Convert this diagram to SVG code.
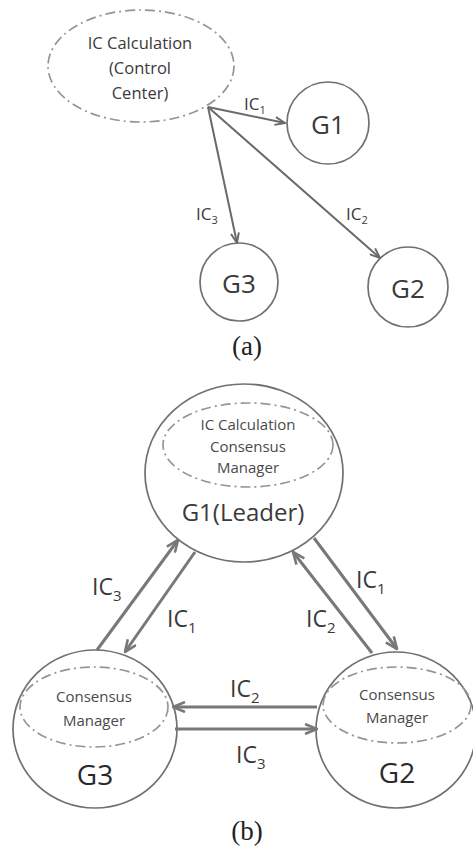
<svg xmlns="http://www.w3.org/2000/svg" width="473" height="849" viewBox="0 0 473 849">
<style>
.bg{fill:#ffffff}
.node{fill:none;stroke:#707070;stroke-width:1.7}
.dash{fill:none;stroke:#959595;stroke-width:1.7;stroke-dasharray:10 4 2 4}
.t{font-family:"Open Sans","Liberation Sans",sans-serif;fill:#3a3a3a;text-anchor:middle}
.small{font-size:15px;fill:#4a4a4a}
.big{font-size:28px;fill:#2a2a2a}
.lbl{font-family:"Open Sans","Liberation Sans",sans-serif;fill:#3a3a3a}
.cap{font-family:"Liberation Serif",serif;font-size:27px;fill:#222;text-anchor:middle}
.la{fill:none;stroke:#6a6a6a;stroke-width:2}
.lb{fill:none;stroke:#787878;stroke-width:3}
</style>
<defs>
<marker id="ha" viewBox="0 0 12 10" refX="11" refY="5" markerWidth="12" markerHeight="10" markerUnits="userSpaceOnUse" orient="auto">
<path d="M1,1 L11,5 L1,9" fill="none" stroke="#6a6a6a" stroke-width="2"/>
</marker>
<marker id="hb" viewBox="0 0 14 12" refX="13" refY="6" markerWidth="14" markerHeight="12" markerUnits="userSpaceOnUse" orient="auto">
<path d="M1,1 L13,6 L1,11" fill="none" stroke="#787878" stroke-width="2.6"/>
</marker>
</defs>
<rect class="bg" x="0" y="0" width="473" height="849"/>

<!-- (a) -->
<g id="a-control">
<ellipse class="dash" cx="141" cy="66" rx="93" ry="56"/>
<text class="t" x="140" y="49" font-size="16.5">IC Calculation</text>
<text class="t" x="140" y="74" font-size="16.5">(Control</text>
<text class="t" x="140" y="99" font-size="16.5">Center)</text>
</g>
<g id="a-g1">
<circle class="node" cx="328" cy="123" r="41"/>
<text class="t" x="328" y="134" font-size="26" fill="#2a2a2a">G1</text>
</g>
<g id="a-g3">
<circle class="node" cx="239" cy="282" r="39"/>
<text class="t" x="239" y="293" font-size="26" fill="#2a2a2a">G3</text>
</g>
<g id="a-g2">
<circle class="node" cx="408" cy="287" r="40"/>
<text class="t" x="408" y="298" font-size="26" fill="#2a2a2a">G2</text>
</g>
<g id="a-connectors">
<line class="la" x1="208" y1="107" x2="285" y2="123" marker-end="url(#ha)"/>
<line class="la" x1="208" y1="107" x2="237" y2="243" marker-end="url(#ha)"/>
<line class="la" x1="208" y1="107" x2="380" y2="258" marker-end="url(#ha)"/>
<text class="lbl" x="244" y="110" font-size="17">IC<tspan font-size="11" dy="4">1</tspan></text>
<text class="lbl" x="196" y="220" font-size="17">IC<tspan font-size="11" dy="4">3</tspan></text>
<text class="lbl" x="346" y="220" font-size="17">IC<tspan font-size="11" dy="4">2</tspan></text>
</g>
<text class="cap" x="247" y="355">(a)</text>

<!-- (b) -->
<g id="b-g1">
<ellipse class="node" cx="244" cy="473" rx="99" ry="89"/>
<ellipse class="dash" cx="248" cy="445" rx="85" ry="42"/>
<text class="t small" x="248" y="430">IC Calculation</text>
<text class="t small" x="248" y="452">Consensus</text>
<text class="t small" x="248" y="473">Manager</text>
<text class="t" x="243" y="521" font-size="24" fill="#2a2a2a">G1(Leader)</text>
</g>
<g id="b-g3">
<ellipse class="node" cx="95" cy="729" rx="82" ry="79"/>
<ellipse class="dash" cx="94" cy="707" rx="74" ry="40"/>
<text class="t small" x="94" y="702">Consensus</text>
<text class="t small" x="94" y="726">Manager</text>
<text class="t big" x="95" y="785">G3</text>
</g>
<g id="b-g2">
<ellipse class="node" cx="396" cy="730" rx="80" ry="78"/>
<ellipse class="dash" cx="397" cy="705" rx="74" ry="38"/>
<text class="t small" x="397" y="700">Consensus</text>
<text class="t small" x="397" y="723">Manager</text>
<text class="t big" x="397" y="783">G2</text>
</g>
<g id="b-connectors">
<line class="lb" x1="97" y1="650" x2="178" y2="540" marker-end="url(#hb)"/>
<line class="lb" x1="195" y1="552" x2="125" y2="652" marker-end="url(#hb)"/>
<line class="lb" x1="314" y1="538" x2="397" y2="649" marker-end="url(#hb)"/>
<line class="lb" x1="372" y1="653" x2="293" y2="552" marker-end="url(#hb)"/>
<line class="lb" x1="317" y1="707" x2="173" y2="707" marker-end="url(#hb)"/>
<line class="lb" x1="175" y1="729" x2="317" y2="729" marker-end="url(#hb)"/>
<text class="lbl" x="92" y="595" font-size="23">IC<tspan font-size="15" dy="6">3</tspan></text>
<text class="lbl" x="167" y="627" font-size="23">IC<tspan font-size="15" dy="6">1</tspan></text>
<text class="lbl" x="356" y="588" font-size="23">IC<tspan font-size="15" dy="6">1</tspan></text>
<text class="lbl" x="306" y="627" font-size="23">IC<tspan font-size="15" dy="6">2</tspan></text>
<text class="lbl" x="230" y="697" font-size="23">IC<tspan font-size="15" dy="6">2</tspan></text>
<text class="lbl" x="236" y="763" font-size="23">IC<tspan font-size="15" dy="6">3</tspan></text>
</g>
<text class="cap" x="247" y="840">(b)</text>
</svg>
